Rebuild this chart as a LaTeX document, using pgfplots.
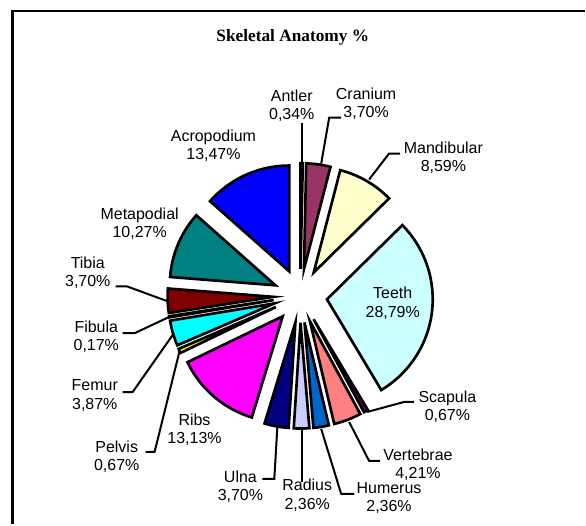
\documentclass[border=0pt]{standalone}
\usepackage{pgfplots}
\pgfplotsset{compat=1.18}
\usepackage{pgfplotstable}
\usepackage{fontspec}
\setmainfont{Liberation Sans}
\newfontfamily\titlefont{Liberation Serif}

\definecolor{slice0}{HTML}{9999FF}
\definecolor{slice1}{HTML}{993366}
\definecolor{slice2}{HTML}{FFFFCC}
\definecolor{slice3}{HTML}{CCFFFF}
\definecolor{slice4}{HTML}{660066}
\definecolor{slice5}{HTML}{FF8080}
\definecolor{slice6}{HTML}{0066CC}
\definecolor{slice7}{HTML}{CCCCFF}
\definecolor{slice8}{HTML}{000080}
\definecolor{slice9}{HTML}{FF00FF}
\definecolor{slice10}{HTML}{FFFF00}
\definecolor{slice11}{HTML}{00FFFF}
\definecolor{slice12}{HTML}{800080}
\definecolor{slice13}{HTML}{800000}
\definecolor{slice14}{HTML}{008080}
\definecolor{slice15}{HTML}{0000FF}

\pgfplotstableread[col sep=comma]{
part,pct
Antler,0.34
Cranium,3.70
Mandibular,8.59
Teeth,28.79
Scapula,0.67
Vertebrae,4.21
Humerus,2.36
Radius,2.36
Ulna,3.70
Ribs,13.13
Pelvis,0.67
Femur,3.87
Fibula,0.17
Tibia,3.70
Metapodial,10.27
Acropodium,13.47
}\skeldata

\begin{document}
\begin{tikzpicture}
\begin{axis}[
  width=439.5pt, height=393.75pt, scale only axis,
  xmin=0, xmax=586, ymin=0, ymax=525, y dir=reverse,
  hide axis, clip=false,
]
\path (rel axis cs:0,0) rectangle (rel axis cs:1,1);
% frame (cropped at right and bottom)
\draw[line width=2.2pt] (axis cs:12.5,525) -- (axis cs:12.5,11) -- (axis cs:586,11);
% title
\node[font=\titlefont\bfseries\fontsize{13}{15}\selectfont] at (axis cs:293.5,37) {Skeletal Anatomy \%};
% slices
\def\cum{0}
\pgfplotsforeachungrouped \i in {0,...,15}{%
  \pgfplotstablegetelem{\i}{pct}\of\skeldata
  \let\pv\pgfplotsretval
  \pgfmathsetmacro\aS{90-3.6*\cum}%
  \pgfmathsetmacro\aE{90-3.6*(\cum+\pv)}%
  \pgfmathsetmacro\aM{(\aS+\aE)/2}%
  \pgfmathsetmacro\cx{301+27*cos(\aM)}%
  \pgfmathsetmacro\cy{296.6-27*sin(\aM)}%
  \pgfmathsetmacro\cum{\cum+\pv}%
  \edef\cmd{\noexpand\addplot[draw=black, line width=2pt, fill=slice\i, domain=\aE:\aS, samples=60, forget plot] ({\cx+106*cos(x)},{\cy-106*sin(x)}) -- (axis cs:\cx,\cy) -- cycle;}%
  \cmd
}
% leader lines
\addplot[black, line width=1.5pt, forget plot] coordinates {(303,123) (303,164)};
\addplot[black, line width=1.5pt, forget plot] coordinates {(342,118) (330,118) (322,164)};
\addplot[black, line width=1.5pt, forget plot] coordinates {(401,154) (390,154) (370,180)};
\addplot[black, line width=1.5pt, forget plot] coordinates {(415,403) (405,403) (368,413)};
\addplot[black, line width=1.5pt, forget plot] coordinates {(381,462) (370,462) (350,423)};
\addplot[black, line width=1.5pt, forget plot] coordinates {(355,495) (342,495) (322,430)};
\addplot[black, line width=1.5pt, forget plot] coordinates {(303,483) (303,431)};
\addplot[black, line width=1.5pt, forget plot] coordinates {(263,480) (275,480) (278,429)};
\addplot[black, line width=1.5pt, forget plot] coordinates {(146,453) (155,453) (180,352)};
\addplot[black, line width=1.5pt, forget plot] coordinates {(123,393) (133,393) (173,336)};
\addplot[black, line width=1.5pt, forget plot] coordinates {(123,334) (135,334) (169,318)};
\addplot[black, line width=1.5pt, forget plot] coordinates {(116,287) (127,287) (168,302)};
% labels
\tikzset{lab/.style={font=\fontsize{12}{13.6}\selectfont, align=center, inner sep=0pt}}
\node[lab] at (axis cs:292.5,106) {Antler\\0,34\%};
\node[lab] at (axis cs:367,104) {Cranium\\3,70\%};
\node[lab] at (axis cs:444.5,158.5) {Mandibular\\8,59\%};
\node[lab] at (axis cs:393.7,304) {Teeth\\28,79\%};
\node[lab] at (axis cs:448.5,407.5) {Scapula\\0,67\%};
\node[lab] at (axis cs:419,465.5) {Vertebrae\\4,21\%};
\node[lab] at (axis cs:390,499) {Humerus\\2,36\%};
\node[lab] at (axis cs:308,496.5) {Radius\\2,36\%};
\node[lab] at (axis cs:241,487.5) {Ulna\\3,70\%};
\node[lab] at (axis cs:195,431) {Ribs\\13,13\%};
\node[lab] at (axis cs:117,457.5) {Pelvis\\0,67\%};
\node[lab] at (axis cs:95,396.5) {Femur\\3,87\%};
\node[lab] at (axis cs:96.5,337.5) {Fibula\\0,17\%};
\node[lab] at (axis cs:88,273) {Tibia\\3,70\%};
\node[lab] at (axis cs:140,224) {Metapodial\\10,27\%};
\node[lab] at (axis cs:214,146.5) {Acropodium\\13,47\%};
\end{axis}
\end{tikzpicture}
\end{document}
